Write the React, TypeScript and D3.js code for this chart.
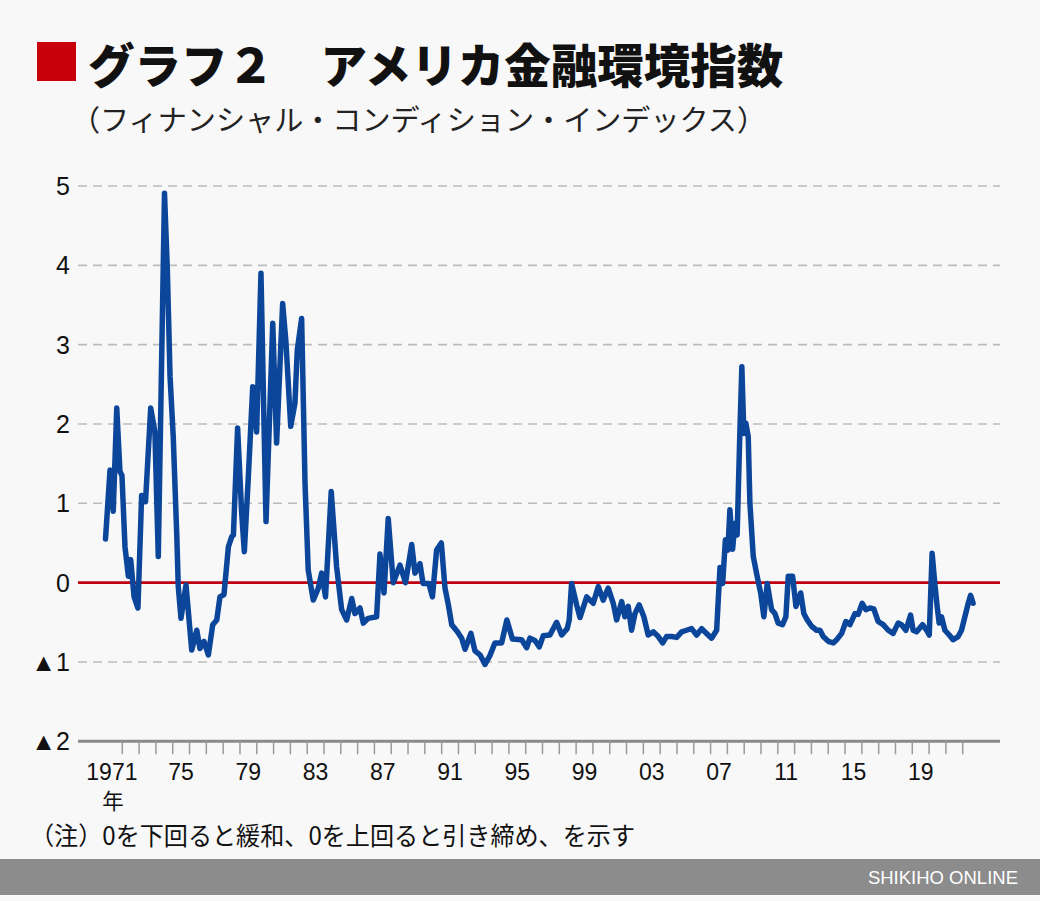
import React from "react";
import * as d3 from "d3";

// ---- data (decimal year, index value) ----
const years: number[] = [
  1971.0, 1971.27, 1971.46, 1971.67, 1971.86, 1971.98, 1972.16, 1972.36, 1972.5, 1972.7,
  1972.93, 1973.15, 1973.38, 1973.69, 1973.94, 1974.14, 1974.51, 1974.68, 1974.84, 1975.03,
  1975.24, 1975.33, 1975.49, 1975.79, 1976.13, 1976.43, 1976.62, 1976.86, 1977.12, 1977.38,
  1977.62, 1977.81, 1978.05, 1978.31, 1978.51, 1978.61, 1978.86, 1979.1, 1979.26, 1979.49,
  1979.76, 1979.99, 1980.25, 1980.55, 1980.95, 1981.18, 1981.54, 1981.74, 1982.02, 1982.27,
  1982.41, 1982.67, 1982.87, 1983.06, 1983.36, 1983.66, 1983.86, 1984.09, 1984.43, 1984.75,
  1985.05, 1985.35, 1985.65, 1985.84, 1986.14, 1986.34, 1986.63, 1987.13, 1987.33, 1987.57,
  1987.82, 1988.12, 1988.52, 1988.85, 1989.22, 1989.41, 1989.71, 1989.89, 1990.24, 1990.45,
  1990.7, 1990.98, 1991.2, 1991.39, 1991.6, 1991.94, 1992.19, 1992.39, 1992.74, 1992.98,
  1993.28, 1993.58, 1993.87, 1994.17, 1994.57, 1994.88, 1995.21, 1995.76, 1996.06, 1996.25,
  1996.55, 1996.81, 1997.04, 1997.44, 1997.84, 1998.14, 1998.47, 1998.59, 1998.73, 1999.03,
  1999.23, 1999.63, 2000.02, 2000.32, 2000.61, 2000.91, 2001.21, 2001.41, 2001.71, 2001.9,
  2002.1, 2002.3, 2002.5, 2002.75, 2003.03, 2003.29, 2003.59, 2003.89, 2004.15, 2004.38,
  2004.68, 2004.98, 2005.28, 2005.57, 2005.87, 2006.17, 2006.47, 2006.76, 2007.06, 2007.36,
  2007.56, 2007.72, 2007.88, 2008.03, 2008.15, 2008.31, 2008.45, 2008.58, 2008.74, 2008.86,
  2008.98, 2009.1, 2009.24, 2009.34, 2009.54, 2009.77, 2009.98, 2010.17, 2010.37, 2010.63,
  2010.83, 2011.02, 2011.28, 2011.48, 2011.62, 2011.88, 2012.08, 2012.36, 2012.55, 2012.75,
  2013.01, 2013.31, 2013.51, 2013.7, 2014.0, 2014.3, 2014.5, 2014.8, 2015.05, 2015.29,
  2015.59, 2015.78, 2016.02, 2016.24, 2016.48, 2016.71, 2016.97, 2017.27, 2017.57, 2017.86,
  2018.16, 2018.36, 2018.62, 2018.9, 2019.05, 2019.26, 2019.61, 2019.85, 2020.01, 2020.18,
  2020.34, 2020.48, 2020.6, 2020.74, 2020.94, 2021.2, 2021.43, 2021.73, 2021.93, 2022.13,
  2022.33, 2022.47, 2022.62,
];

const values: number[] = [
  0.55, 1.42, 0.9, 2.2, 1.4, 1.35, 0.45, 0.08, 0.29, -0.18,
  -0.32, 1.1, 1.02, 2.2, 1.9, 0.33, 4.91, 3.94, 2.6, 1.84,
  0.6, -0.05, -0.45, -0.03, -0.85, -0.6, -0.83, -0.74, -0.91, -0.53,
  -0.47, -0.18, -0.15, 0.45, 0.58, 0.6, 1.95, 0.88, 0.39, 1.3,
  2.47, 1.9, 3.9, 0.77, 3.27, 1.76, 3.52, 3.02, 1.97, 2.26,
  2.93, 3.33, 1.26, 0.16, -0.22, -0.07, 0.12, -0.18, 1.15, 0.2,
  -0.34, -0.47, -0.2, -0.39, -0.32, -0.51, -0.45, -0.43, 0.36, -0.13,
  0.81, 0.0, 0.22, 0.0, 0.48, 0.12, 0.24, -0.01, -0.01, -0.18,
  0.41, 0.5, -0.07, -0.27, -0.53, -0.62, -0.7, -0.84, -0.64, -0.86,
  -0.91, -1.03, -0.92, -0.76, -0.76, -0.47, -0.71, -0.72, -0.82, -0.7,
  -0.73, -0.81, -0.67, -0.66, -0.5, -0.66, -0.58, -0.47, -0.01, -0.28,
  -0.44, -0.18, -0.26, -0.05, -0.22, -0.07, -0.26, -0.47, -0.24, -0.43,
  -0.3, -0.6, -0.39, -0.28, -0.43, -0.66, -0.62, -0.68, -0.76, -0.68,
  -0.68, -0.69, -0.62, -0.6, -0.58, -0.66, -0.58, -0.64, -0.7, -0.6,
  0.19, -0.01, 0.54, 0.41, 0.92, 0.42, 0.75, 0.6, 1.88, 2.72,
  1.88, 2.01, 1.84, 1.0, 0.33, 0.08, -0.13, -0.43, -0.01, -0.34,
  -0.39, -0.51, -0.53, -0.43, 0.08, 0.08, -0.3, -0.13, -0.39, -0.47,
  -0.55, -0.6, -0.6, -0.68, -0.74, -0.76, -0.72, -0.64, -0.49, -0.53,
  -0.39, -0.4, -0.26, -0.34, -0.32, -0.33, -0.49, -0.53, -0.6, -0.64,
  -0.51, -0.53, -0.6, -0.41, -0.6, -0.62, -0.53, -0.6, -0.66, 0.37,
  -0.01, -0.3, -0.51, -0.43, -0.6, -0.66, -0.72, -0.68, -0.6, -0.43,
  -0.26, -0.16, -0.26,
];

const yTicks: number[] = [5, 4, 3, 2, 1, 0, -1, -2];
const yTickLabels: string[] = ["5", "4", "3", "2", "1", "0", "▲1", "▲2"];
const xLabelYears: number[] = [1971, 1975, 1979, 1983, 1987, 1991, 1995, 1999, 2003, 2007, 2011, 2015, 2019];
const xLabels: string[] = ["1971", "75", "79", "83", "87", "91", "95", "99", "03", "07", "11", "15", "19"];
const tickYears: number[] = d3.range(1972, 2023);

const TITLE = "グラフ２　アメリカ金融環境指数";
const SUBTITLE = "（フィナンシャル・コンディション・インデックス）";
const NOTE = "（注）0を下回ると緩和、0を上回ると引き締め、を示す";
const CREDIT = "SHIKIHO ONLINE";

const W = 1040;
const H = 901;
const SANS = "'Liberation Sans', Arial, 'Noto Sans CJK JP', sans-serif";
const JP = "'Noto Sans CJK JP', 'Noto Sans', sans-serif";

export default function App() {
  const x = d3.scaleLinear().domain([1971, 2022]).range([105.5, 962.7]);
  const y = d3.scaleLinear().domain([-2, 5]).range([741.3, 186]);
  const plotLeft = 78;
  const plotRight = 1000;

  const data = years.map((yr, i) => [yr, values[i]] as [number, number]);
  const line = d3
    .line<[number, number]>()
    .x((d) => x(d[0]))
    .y((d) => y(d[1]));

  return (
    <svg
      width={W}
      height={H}
      viewBox={`0 0 ${W} ${H}`}
      style={{ display: "block", position: "absolute", left: 0, top: 0 }}
    >
      <rect x={0} y={0} width={W} height={H} fill="#f8f8f8" />

      {/* title */}
      <rect x={37} y={42} width={39} height={39} fill="#c8000a" />
      <text x={88} y={62} fontFamily={JP} fontWeight={900} fontSize={46.5} fill="#111" dominantBaseline="central">
        {TITLE}
      </text>
      <text
        x={71}
        y={118}
        fontFamily={JP}
        fontSize={29}
        fill="#222"
        dominantBaseline="central"
        textLength={695}
        lengthAdjust="spacingAndGlyphs"
      >
        {SUBTITLE}
      </text>

      {/* grid */}
      {yTicks.map((t) =>
        t === 0 || t === -2 ? null : (
          <line
            key={"g" + t}
            x1={plotLeft}
            x2={plotRight}
            y1={y(t)}
            y2={y(t)}
            stroke="#bcbcbc"
            strokeWidth={1.6}
            strokeDasharray="9 6"
          />
        )
      )}

      {/* y labels */}
      {yTicks.map((t, i) => (
        <text
          key={"yl" + t}
          x={70}
          y={y(t)}
          textAnchor="end"
          dominantBaseline="central"
          fontFamily={SANS}
          fontSize={25}
          fill="#111"
        >
          {yTickLabels[i]}
        </text>
      ))}

      {/* bottom axis */}
      <line x1={plotLeft} x2={plotRight} y1={y(-2)} y2={y(-2)} stroke="#8a8a8a" strokeWidth={3} />
      {tickYears.map((yr) => (
        <line
          key={"t" + yr}
          x1={x(yr)}
          x2={x(yr)}
          y1={y(-2)}
          y2={y(-2) + 13}
          stroke="#9a9a9a"
          strokeWidth={1.5}
        />
      ))}
      {xLabelYears.map((yr, i) => (
        <text
          key={"xl" + yr}
          x={x(yr + 0.5) - (i === 0 ? 2 : 0)}
          y={772}
          textAnchor="middle"
          dominantBaseline="central"
          fontFamily={SANS}
          fontSize={23}
          fill="#111"
        >
          {xLabels[i]}
        </text>
      ))}
      <text x={x(1971.5) - 1} y={799} textAnchor="middle" dominantBaseline="central" fontFamily={JP} fontSize={21.5} fill="#111">
        年
      </text>

      {/* zero line */}
      <line x1={plotLeft} x2={plotRight} y1={y(0)} y2={y(0)} stroke="#c00010" strokeWidth={2.6} />

      {/* series */}
      <path
        d={line(data) || ""}
        fill="none"
        stroke="#0c469b"
        strokeWidth={5.5}
        strokeLinejoin="round"
        strokeLinecap="round"
      />

      {/* note */}
      <text
        x={30}
        y={834}
        fontFamily={JP}
        fontSize={25}
        fill="#111"
        dominantBaseline="central"
        textLength={605}
        lengthAdjust="spacingAndGlyphs"
      >
        {NOTE}
      </text>

      {/* footer */}
      <rect x={0} y={859} width={W} height={36} fill="#8c8c8c" />
      <text
        x={1018}
        y={877.5}
        textAnchor="end"
        dominantBaseline="central"
        fontFamily={SANS}
        fontSize={18.5}
        fill="#ffffff"
      >
        {CREDIT}
      </text>
    </svg>
  );
}
